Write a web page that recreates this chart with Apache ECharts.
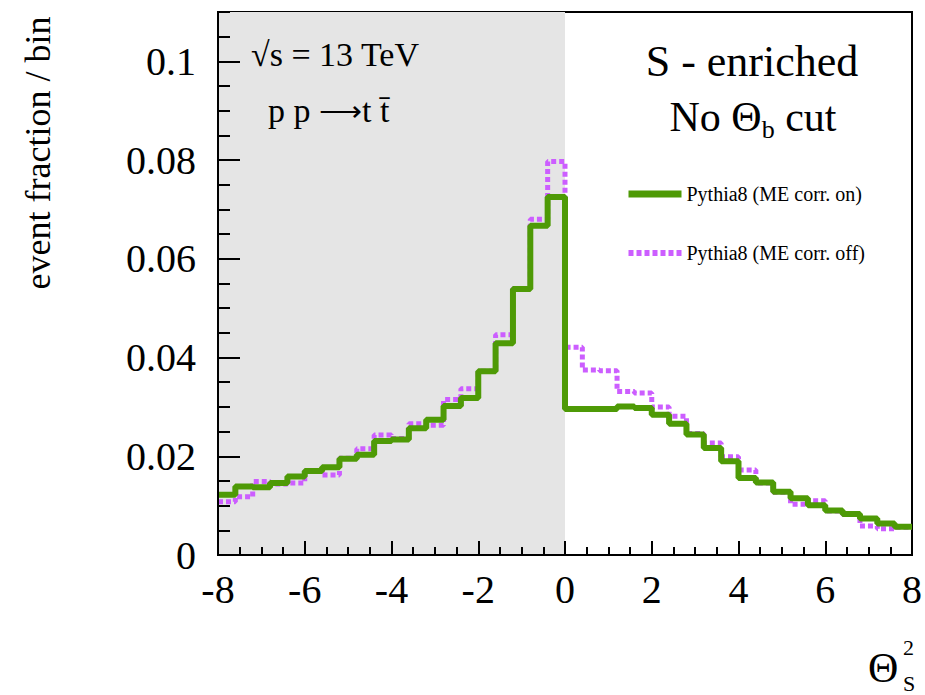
<!DOCTYPE html>
<html>
<head>
    <meta charset="utf-8">
    <title>Theta_S^2 histogram</title>
    <script src="https://cdn.jsdelivr.net/npm/echarts@6/dist/echarts.min.js"></script>
    <style>
        body { margin: 0; background: #fff; }
        #main { width: 925px; height: 695px; }
    </style>
</head>
<body>
    <div id="main"></div>
    <script type="text/javascript">
// bin edges of the histogram (40 bins, -8 .. 8)
var binEdges = [-8, -7.6, -7.2, -6.8, -6.4, -6, -5.6, -5.2, -4.8, -4.4,
    -4, -3.6, -3.2, -2.8, -2.4, -2, -1.6, -1.2, -0.8, -0.4,
    0, 0.4, 0.8, 1.2, 1.6, 2, 2.4, 2.8, 3.2, 3.6,
    4, 4.4, 4.8, 5.2, 5.6, 6, 6.4, 6.8, 7.2, 7.6, 8];

// event fraction per bin
var meCorrOn = [0.0122, 0.0139, 0.0137, 0.0146, 0.0159, 0.0170, 0.0178, 0.0195, 0.0203, 0.0231,
    0.0234, 0.0257, 0.0274, 0.0302, 0.0318, 0.0372, 0.0429, 0.0539, 0.0667, 0.0725,
    0.0296, 0.0296, 0.0296, 0.0301, 0.0298, 0.0284, 0.0266, 0.0244, 0.0217, 0.0190,
    0.0156, 0.0147, 0.0128, 0.0115, 0.0101, 0.0090, 0.0083, 0.0074, 0.0064, 0.0057];
var meCorrOff = [0.0108, 0.0118, 0.0149, 0.0144, 0.0146, 0.0170, 0.0162, 0.0196, 0.0215, 0.0243,
    0.0236, 0.0266, 0.0263, 0.0315, 0.0337, 0.0372, 0.0446, 0.0540, 0.0680, 0.0797,
    0.0421, 0.0375, 0.0373, 0.0331, 0.0328, 0.0300, 0.0281, 0.0246, 0.0227, 0.0199,
    0.0172, 0.0146, 0.0127, 0.0103, 0.0110, 0.0089, 0.0082, 0.0059, 0.0053, 0.0056];

var xTicks = [-8, -6, -4, -2, 0, 2, 4, 6, 8];
var yTicks = [0, 0.02, 0.04, 0.06, 0.08, 0.1];
var shadedRange = [-8, 0];

var FONT = '"Liberation Serif", "Times New Roman", serif';
var GREEN = '#4e9a06';
var MAGENTA = '#cc5eff';

// step histogram: one point per left edge, plus the last edge
function toSteps(vals) {
    return binEdges.map(function (x, i) {
        return [x, vals[Math.min(i, vals.length - 1)]];
    });
}

function label(x, y, text, size, extra) {
    var el = {
        type: 'text', x: x, y: y, z: 20,
        style: { text: text, fontFamily: FONT, fontSize: size, fill: '#000',
            align: 'left', verticalAlign: 'middle' }
    };
    for (var k in (extra || {})) el[k] = extra[k];
    return el;
}

var myChart = echarts.init(document.getElementById('main'), null, { renderer: 'svg' });

var yLabel = label(38, 153, 'event fraction / bin', 36, { rotation: Math.PI / 2 });
yLabel.style.align = 'center';
var title1 = label(752, 61, 'S - enriched', 44);
title1.style.align = 'center';
var title2 = {
    type: 'text', x: 753, y: 117, z: 20,
    style: {
        text: '{t|No \u0398}{s|b}{t| cut}',
        align: 'center', verticalAlign: 'middle',
        rich: {
            t: { fontFamily: FONT, fontSize: 42, fill: '#000' },
            s: { fontFamily: FONT, fontSize: 26, fill: '#000', padding: [24, 0, 0, 0] }
        }
    }
};
var process = {
    type: 'text', x: 268, y: 110, z: 20,
    style: {
        text: '{t|p p }{a|\u27F6}{t|t t\u0304}',
        align: 'left', verticalAlign: 'middle',
        rich: {
            t: { fontFamily: FONT, fontSize: 34, fill: '#000' },
            a: { fontFamily: FONT, fontSize: 30, fill: '#000' }
        }
    }
};

myChart.setOption({
    animation: false,
    backgroundColor: '#fff',
    grid: {
        left: 218, right: 13, top: 12, bottom: 140,
        show: true,
        borderColor: '#000',
        borderWidth: 2,
        backgroundColor: 'transparent'
    },
    legend: {
        orient: 'vertical',
        left: 625,
        top: 184,
        padding: 0,
        itemWidth: 53,
        itemHeight: 16,
        itemGap: 39,
        itemStyle: { opacity: 0 },
        textStyle: { fontFamily: FONT, fontSize: 20, color: '#000' },
        data: [
            { name: 'Pythia8 (ME corr. on)', lineStyle: { width: 7, color: GREEN } },
            { name: 'Pythia8 (ME corr. off)', lineStyle: { width: 6, color: MAGENTA, type: [5, 3] } }
        ]
    },
    xAxis: {
        type: 'value',
        z: 5,
        min: xTicks[0],
        max: xTicks[xTicks.length - 1],
        interval: 2,
        axisLine: { onZero: false, lineStyle: { color: '#000', width: 2 } },
        axisTick: { inside: true, length: 14, lineStyle: { color: '#000', width: 2 } },
        minorTick: { show: true, splitNumber: 4, length: 8, lineStyle: { color: '#000', width: 2 } },
        splitLine: { show: false },
        axisLabel: { margin: 14, fontFamily: FONT, fontSize: 40, color: '#000' }
    },
    yAxis: [
        {
            type: 'value',
            z: 5,
            min: 0,
            max: 0.11,
            interval: 0.02,
            axisLine: { show: true, onZero: false, lineStyle: { color: '#000', width: 2 } },
            axisTick: { inside: true, length: 22, lineStyle: { color: '#000', width: 2 } },
            splitLine: { show: false },
            axisLabel: {
                margin: 22, fontFamily: FONT, fontSize: 40, color: '#000',
                showMaxLabel: false,
                formatter: function (v) {
                    var r = Math.round(v * 1000) / 1000;
                    return yTicks.indexOf(r) >= 0 ? String(r) : '';
                }
            }
        },
        {
            // minor ticks every 0.005
            type: 'value',
            z: 5,
            position: 'left',
            min: 0,
            max: 0.11,
            interval: 0.005,
            axisLine: { show: false, onZero: false },
            axisTick: { inside: true, length: 12, lineStyle: { color: '#000', width: 2 } },
            axisLabel: { show: false },
            splitLine: { show: false }
        }
    ],
    series: [
        {
            // grey region for negative values
            type: 'line',
            data: [],
            silent: true,
            z: 0,
            markArea: {
                silent: true,
                itemStyle: { color: '#e5e5e5' },
                data: [[{ xAxis: shadedRange[0] }, { xAxis: shadedRange[1] }]]
            }
        },
        {
            name: 'Pythia8 (ME corr. off)',
            type: 'line',
            step: 'end',
            symbol: 'none',
            z: 3,
            color: MAGENTA,
            lineStyle: { color: MAGENTA, width: 5, type: [5, 3], cap: 'butt' },
            data: toSteps(meCorrOff)
        },
        {
            name: 'Pythia8 (ME corr. on)',
            type: 'line',
            step: 'end',
            symbol: 'none',
            z: 4,
            color: GREEN,
            lineStyle: { color: GREEN, width: 6 },
            data: toSteps(meCorrOn)
        }
    ],
    graphic: [
        yLabel,
        label(251, 54, '\u221As = 13 TeV', 34),
        process,
        title1,
        title2,
        label(868, 668, '\u0398', 42),
        label(903, 647, '2', 22),
        label(903, 683, 'S', 22)
    ]
});
    </script>
</body>
</html>
